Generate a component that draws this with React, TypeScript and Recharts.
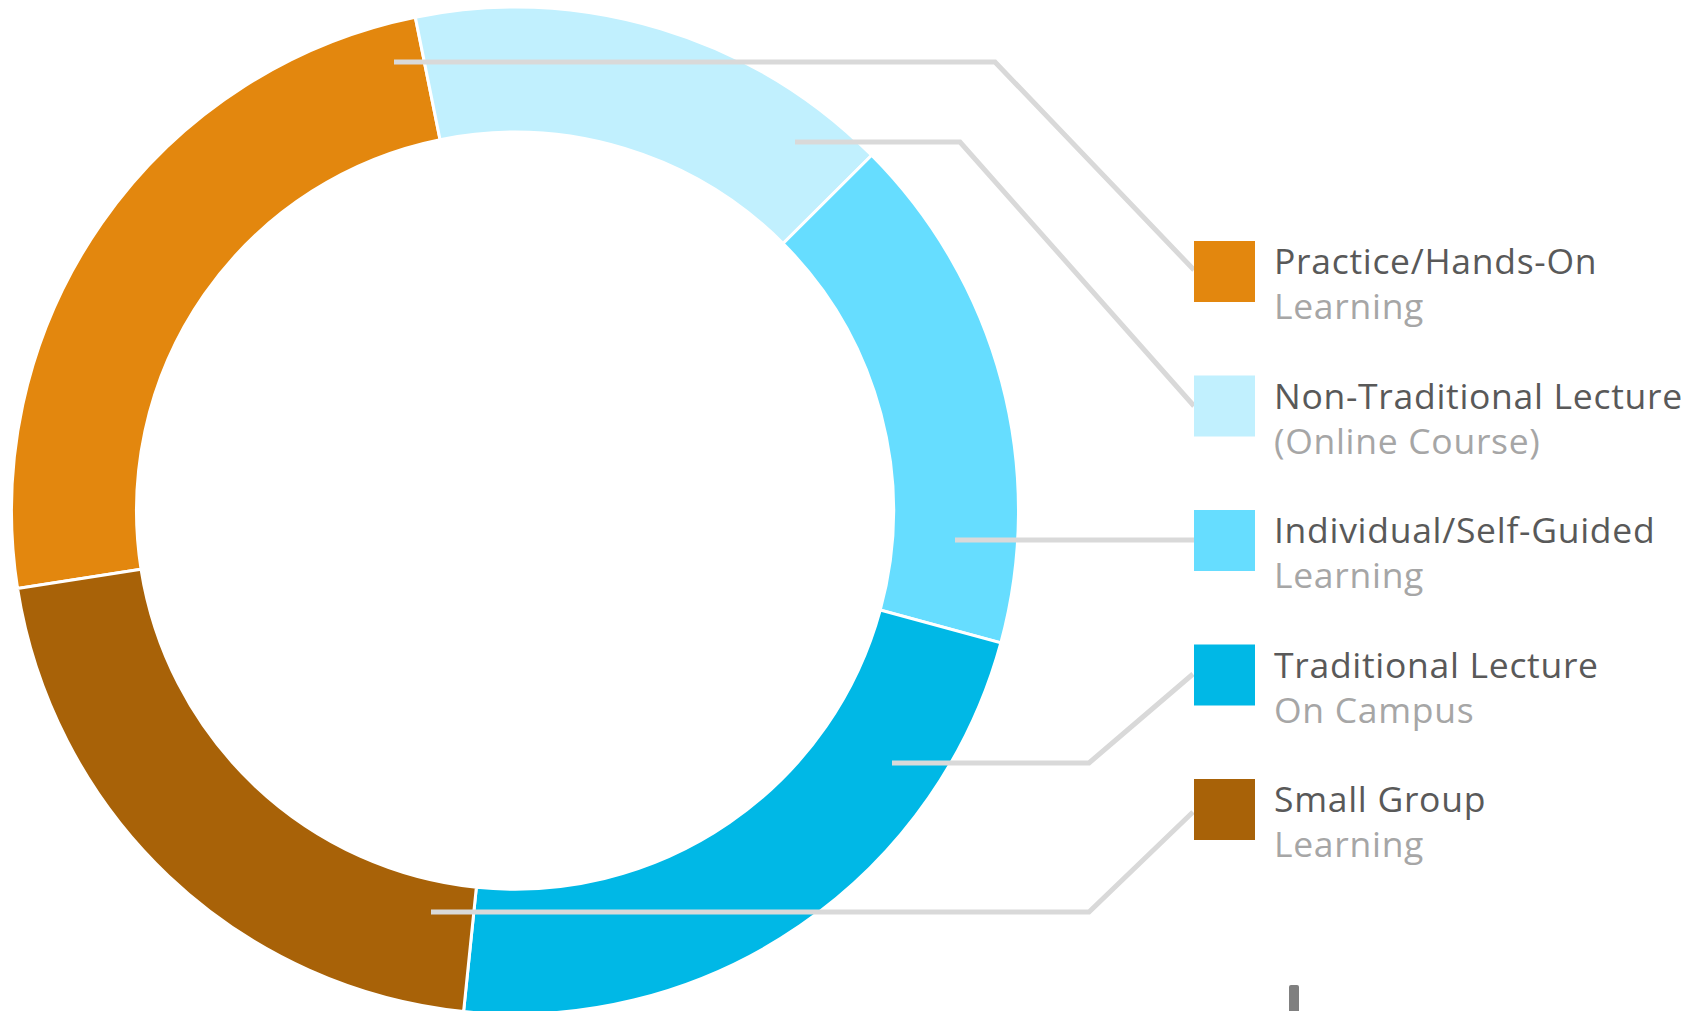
import { Cell, Pie, PieChart } from 'recharts'

const categories = [
  'Practice/Hands-On',
  'Non-Traditional Lecture',
  'Individual/Self-Guided',
  'Traditional Lecture',
  'Small Group',
]
const subLabels = ['Learning', '(Online Course)', 'Learning', 'On Campus', 'Learning']
const shares = [24.3, 15.7, 16.7, 22.4, 20.9]
const colors = ['#E3870E', '#C1F0FE', '#66DDFF', '#00B8E6', '#A86208']

// leader lines, from the ring out to each legend swatch
const leaders = [
  [[394, 62], [995, 62], [1194, 270]],
  [[795, 142], [960, 142], [1194, 406]],
  [[955, 540], [1194, 540]],
  [[892, 763], [1089, 763], [1193, 674]],
  [[431, 912], [1089, 912], [1193, 812]],
]

const W = 1694
const H = 1011
const legendX = 1194
const legendTop = 241
const rowGap = 134.5
const swatch = 61
const font = '"Open Sans", "Noto Sans", sans-serif'

const data = categories.map((name, i) => ({ name, value: shares[i] }))

export default function App() {
  return (
    <div style={{ position: 'absolute', left: 0, top: 0, width: W, height: H, background: '#fff' }}>
      <PieChart width={W} height={H} margin={{ top: 0, right: 0, bottom: 0, left: 0 }}>
        <Pie
          data={data}
          dataKey="value"
          nameKey="name"
          cx={515}
          cy={510.7}
          innerRadius={378.5}
          outerRadius={503.5}
          startAngle={-171.1}
          endAngle={-531.1}
          stroke="#fff"
          strokeWidth={3}
          isAnimationActive={false}
        >
          {data.map((d, i) => (
            <Cell key={d.name} fill={colors[i]} />
          ))}
        </Pie>
      </PieChart>
      <svg
        width={W}
        height={H}
        style={{ position: 'absolute', left: 0, top: 0, pointerEvents: 'none' }}
      >
        {leaders.map((pts, i) => (
          <polyline
            key={i}
            points={pts.map((p) => p.join(',')).join(' ')}
            fill="none"
            stroke="#D9D9D9"
            strokeWidth={5}
          />
        ))}
        {categories.map((name, i) => {
          const top = legendTop + i * rowGap
          return (
            <g key={name}>
              <rect x={legendX} y={top} width={swatch} height={swatch} fill={colors[i]} />
              <text
                x={1274}
                y={top + 33}
                fontFamily={font}
                fontSize={35.5}
                letterSpacing={0.7}
                fill="#595959"
              >
                {name}
              </text>
              <text
                x={1274}
                y={top + 78}
                fontFamily={font}
                fontSize={35.5}
                letterSpacing={0.7}
                fill="#A6A6A6"
              >
                {subLabels[i]}
              </text>
            </g>
          )
        })}
        <rect x={1289} y={985} width={10} height={30} rx={2} fill="#808080" />
      </svg>
    </div>
  )
}
